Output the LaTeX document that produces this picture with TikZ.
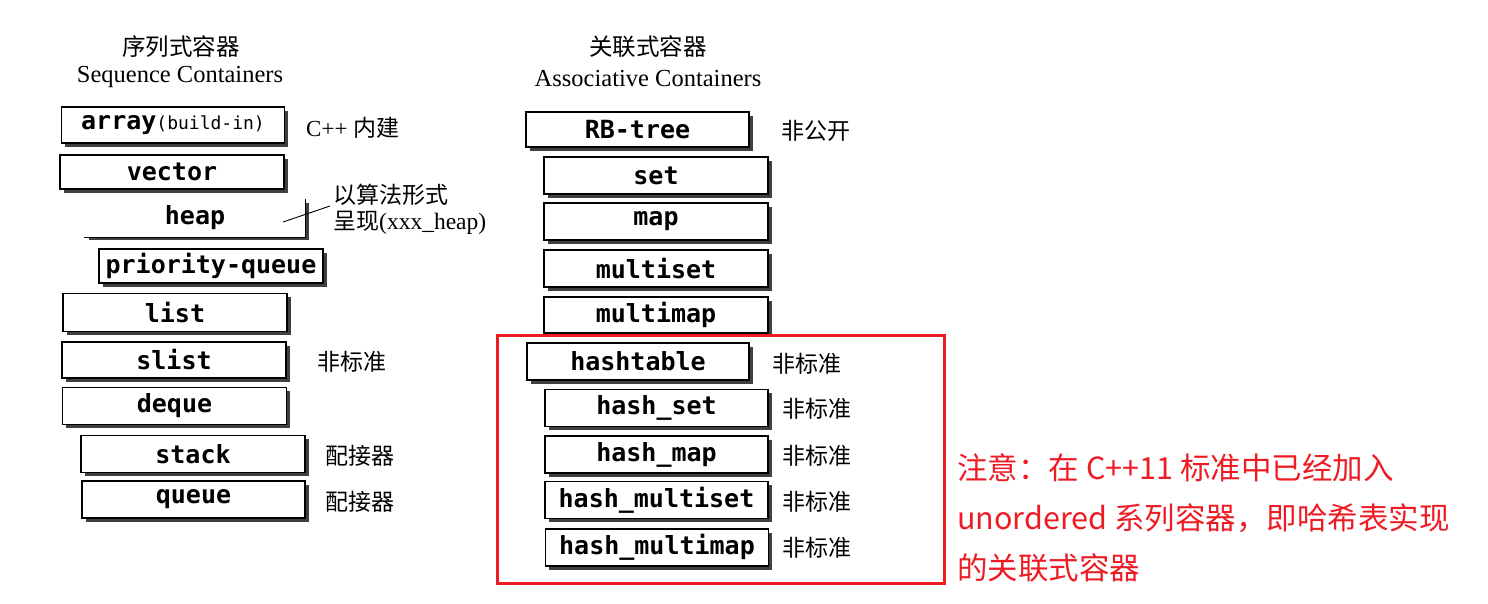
\documentclass[tikz,border=0pt]{standalone}
\usepackage{fontspec}
\setmainfont{Liberation Serif}
\newfontfamily\cjk{Noto Sans CJK SC}
\newfontfamily\boxfont{DejaVu Sans Mono}
\usetikzlibrary{shadows}
\definecolor{notered}{RGB}{237,28,36}
\tikzset{
  cbox/.style={draw, line width=1.4pt, fill=white, minimum width=223pt, minimum height=36pt, inner sep=0pt,
    font=\boxfont\bfseries\fontsize{25}{25}\selectfont,
    drop shadow={shadow xshift=3.5pt, shadow yshift=-3.5pt, fill=black!75, opacity=1}},
  tag/.style={anchor=west, inner sep=0pt, font=\cjk\fontsize{23}{23}\selectfont},
  head/.style={inner sep=0pt, font=\fontsize{24.5}{24.5}\selectfont},
  headcn/.style={inner sep=0pt, font=\cjk\fontsize{23.5}{23.5}\selectfont}
}
\begin{document}
\begin{tikzpicture}[x=1pt, y=-1pt]
    \useasboundingbox (0,0) rectangle (1488,603);

    % Headings
    \node[headcn] (seqcn) at (181,47) {序列式容器};
    \node[head] (seqen) at (180,77) {Sequence Containers};
    \node[headcn] (asscn) at (648,47) {关联式容器};
    \node[head] (assen) at (648,79) {Associative Containers};

    % Sequence containers
    \node[cbox] (array) at (173,125) {array{\fontsize{18}{18}\selectfont\mdseries(build-in)}};
    \node[cbox, minimum width=224pt, minimum height=34pt] (vector) at (172,172) {vector};
    \node[cbox, draw=none, minimum width=220pt, minimum height=37pt] (heap) at (195,218) {heap};
    \draw[line width=1.4pt] (heap.north east) -- (heap.south east) -- (heap.south west);
    \node[cbox, minimum width=224pt, minimum height=34pt] (pqueue) at (211,266) {priority-queue};
    \node[cbox, minimum width=224pt, minimum height=38pt] (list) at (175,312.5) {list};
    \node[cbox, minimum width=224pt] (slist) at (174,360) {slist};
    \node[cbox, minimum width=224pt, minimum height=37pt] (deque) at (174.5,406) {deque};
    \node[cbox, minimum width=224pt, minimum height=37pt] (stack) at (193,454) {stack};
    \node[cbox, minimum height=37pt] (queue) at (193.5,499.5) {queue};

    % Notes beside the sequence containers
    \node[tag, font=\fontsize{23}{23}\selectfont] (builtin) at (306,128) {C++ {\cjk 内建}};
    \node[tag, align=left, font=\cjk\fontsize{23}{26}\selectfont] (algnote) at (333,209)
      {以算法形式\\呈现{\rmfamily\fontsize{23.5}{26}\selectfont(xxx\_heap)}};
    \coordinate (heapin) at (283,222);
    \draw[line width=0.9pt] (heapin) -- ([xshift=-3pt, yshift=3pt]algnote.west);
    \node[tag] (slistnote) at (317,362) {非标准};
    \node[tag] (stacknote) at (325,456) {配接器};
    \node[tag] (queuenote) at (325,502) {配接器};

    % Associative containers
    \node[cbox, minimum height=35pt] (rbtree) at (637.5,129.5) {RB-tree};
    \node[cbox, minimum width=224pt, minimum height=37pt] (set) at (656,175.5) {set};
    \node[cbox, minimum width=224pt, minimum height=37pt] (map) at (656,221.5) {map};
    \node[cbox, minimum width=224pt, minimum height=37pt] (multiset) at (656,268.5) {multiset};
    \node[cbox, minimum width=224pt] (multimap) at (656,315) {multimap};
    \node[cbox, minimum width=222pt, minimum height=37pt] (hashtable) at (638,361.5) {hashtable};
    \node[cbox, minimum height=37pt] (hashset) at (656.5,408) {hash\_set};
    \node[cbox, minimum height=37pt] (hashmap) at (656.5,454.5) {hash\_map};
    \node[cbox, minimum height=37pt] (hashmset) at (656.5,500) {hash\_multiset};
    \node[cbox, minimum height=37pt] (hashmmap) at (657,547.5) {hash\_multimap};

    % Notes beside the associative containers
    \node[tag] (rbnote) at (781,131) {非公开};
    \node[tag] (htnote) at (772,364) {非标准};
    \foreach \b/\y in {hashset/409, hashmap/456, hashmset/502, hashmmap/548}
      \node[tag] (\b note) at (782,\y) {非标准};

    % Red frame round the hash containers, with its remark
    \draw[notered, line width=3pt] (497,335) rectangle (944,583);
    \node[anchor=west, inner sep=0pt, align=left, text=notered, font=\cjk\fontsize{30.5}{50}\selectfont] (remark) at (957,518)
      {注意：在 C++11 标准中已经加入\\unordered 系列容器，即哈希表实现\\的关联式容器};
  \end{tikzpicture}
\end{document}
